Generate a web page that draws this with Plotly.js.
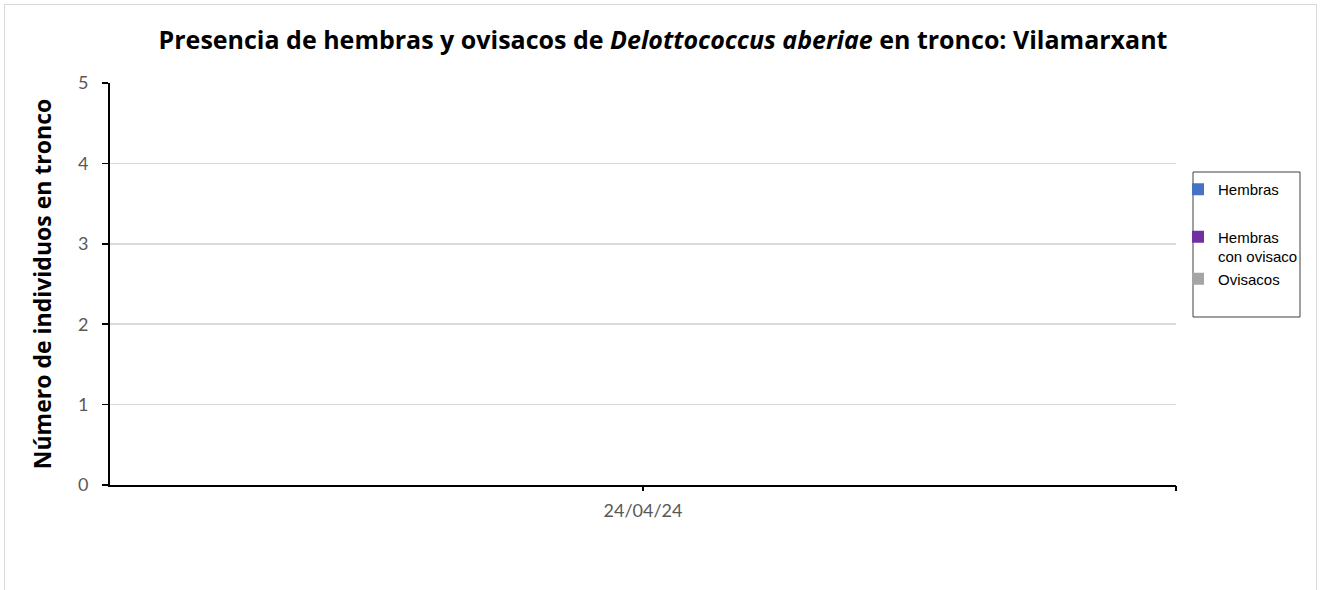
<!DOCTYPE html>
<html>
<head>
<meta charset="utf-8">
<script src="https://cdn.plot.ly/plotly-3.0.1.min.js"></script>
<style>
html,body{margin:0;padding:0;background:#fff;}
#wrap{position:relative;width:1322px;height:590px;overflow:hidden;}
#chart{width:1322px;height:590px;}
#frame{position:absolute;left:4px;top:4px;width:1313px;height:600px;border:1.5px solid #d9d9d9;pointer-events:none;box-sizing:border-box;}
</style>
</head>
<body>
<div id="wrap"><div id="chart"></div><div id="frame"></div></div>
<script>
const categories = ["24/04/24"];
const seriesNames = ["Hembras", "Hembras<br>con ovisaco", "Ovisacos"];
const hembras = [0];
const hembrasOvisaco = [0];
const ovisacos = [0];
const colors = ["#4472C4", "#7030A0", "#A5A5A5"];
const groups = ["a", "b", "b"];
const values = [hembras, hembrasOvisaco, ovisacos];

const traces = values.map((v, i) => ({
  type: "bar",
  x: categories,
  y: v,
  name: seriesNames[i],
  marker: {color: colors[i]},
  legendgroup: groups[i]
}));
traces.push({type: "scatter", x: [0], y: [0], xaxis: "x2", mode: "markers",
  marker: {opacity: 0}, showlegend: false, hoverinfo: "skip"});

const px = (p) => (p - 110) / 1066;
const py = (p) => (485 - p) / 402;

const layout = {
  width: 1322, height: 590,
  margin: {l: 110, r: 146, t: 83, b: 105},
  paper_bgcolor: "#fff", plot_bgcolor: "#fff",
  title: {
    text: "<b>Presencia de hembras y ovisacos de <i>Delottococcus aberiae</i> en tronco: Vilamarxant</b>",
    font: {family: "'Open Sans', Lato, sans-serif", size: 25, color: "#000"},
    x: 663/1322, xref: "container", xanchor: "center", y: 0.932, yref: "container", yanchor: "middle"
  },
  barmode: "group",
  showlegend: true,
  legend: {
    xref: "container", yref: "container",
    x: 1178/1322, y: 1 - 173/590, xanchor: "left", yanchor: "top",
    borderwidth: 0, bgcolor: "rgba(0,0,0,0)",
    font: {family: "'Liberation Sans', Arial, sans-serif", size: 15, color: "#000"},
    tracegroupgap: 25, itemwidth: 30, valign: "top", traceorder: "grouped"
  },
  shapes: [{
    type: "rect", xref: "paper", yref: "paper",
    x0: px(1193), x1: px(1300), y0: py(317), y1: py(172),
    line: {color: "#404040", width: 1}, fillcolor: "rgba(0,0,0,0)", layer: "below"
  }],
  xaxis: {
    type: "category",
    showgrid: false, showline: true, linecolor: "#000", linewidth: 2,
    ticks: "", zeroline: false,
    tickfont: {family: "Lato, 'Open Sans', sans-serif", size: 18, color: "#595959"},
    ticklabelstandoff: 8
  },
  xaxis2: {
    overlaying: "x", range: [-0.5, 0.5], showgrid: false, zeroline: false,
    showline: false, tickvals: [0, 0.5], ticktext: ["", ""],
    ticks: "outside", ticklen: 5, tickcolor: "#000", tickwidth: 2, fixedrange: true
  },
  yaxis: {
    range: [0, 5], dtick: 1, tick0: 0,
    showgrid: true, gridcolor: "#d9d9d9", gridwidth: 1.5,
    showline: true, linecolor: "#000", linewidth: 2,
    zeroline: false,
    ticks: "outside", ticklen: 6, tickcolor: "#000", tickwidth: 1.5,
    ticklabelstandoff: 10,
    tickfont: {family: "Lato, 'Open Sans', sans-serif", size: 18, color: "#595959"},
    title: {text: "<b>Número de individuos en tronco</b>",
      font: {family: "'Open Sans', Lato, sans-serif", size: 23, color: "#000"}, standoff: 20}
  }
};

Plotly.newPlot("chart", traces, layout, {displayModeBar: false, staticPlot: true});
</script>
</body>
</html>
